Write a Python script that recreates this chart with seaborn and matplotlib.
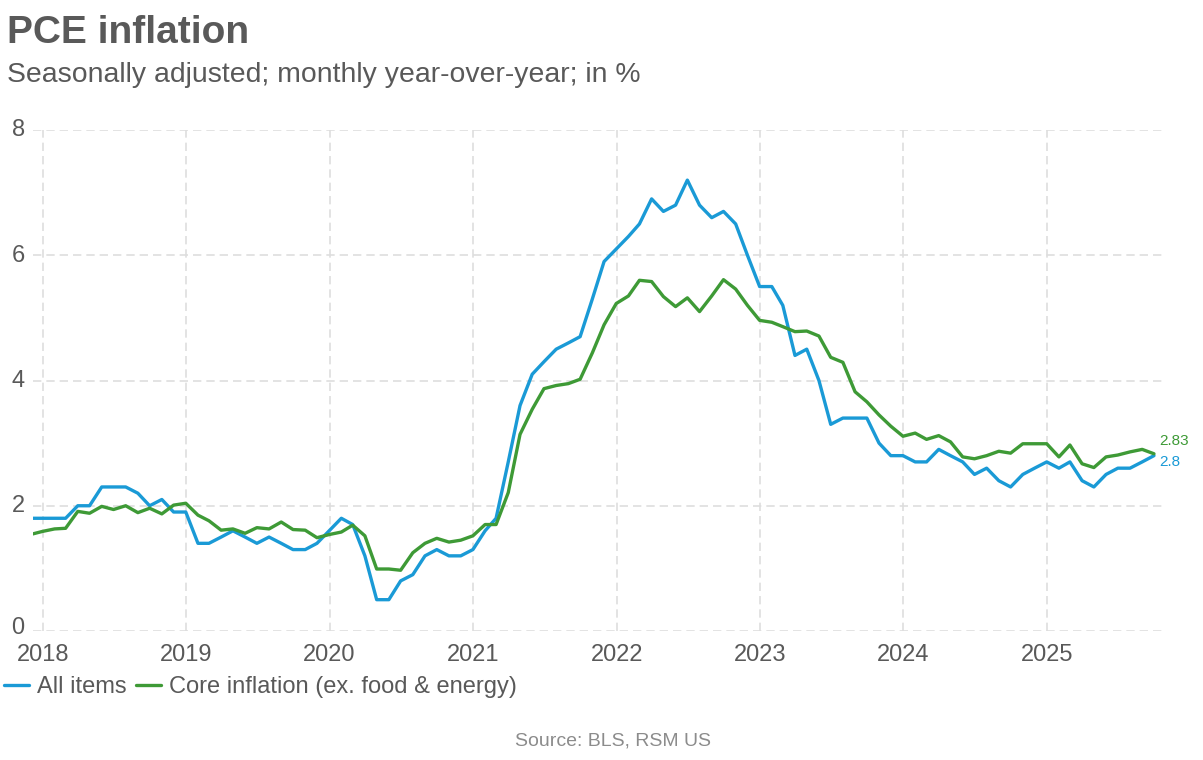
import numpy as np
import pandas as pd
import matplotlib
matplotlib.use("Agg")
import matplotlib.pyplot as plt
import matplotlib.dates as mdates
import matplotlib.transforms as mtransforms
import seaborn as sns

# ---------------- data (month-end observations, Nov 2017 .. Sep 2025) ----------------
start_month = "2017-11-30"
n_months = 95

all_items = [
    1.8, 1.8,
    1.8, 1.8, 2.0, 2.0, 2.3, 2.3, 2.3, 2.2, 2.0, 2.1, 1.9, 1.9,
    1.4, 1.4, 1.5, 1.6, 1.5, 1.4, 1.5, 1.4, 1.3, 1.3, 1.4, 1.6,
    1.8, 1.7, 1.2, 0.5, 0.5, 0.8, 0.9, 1.2, 1.3, 1.2, 1.2, 1.3,
    1.6, 1.8, 2.7, 3.6, 4.1, 4.3, 4.5, 4.6, 4.7, 5.3, 5.9, 6.1,
    6.3, 6.5, 6.9, 6.7, 6.8, 7.2, 6.8, 6.6, 6.7, 6.5, 6.0, 5.5,
    5.5, 5.2, 4.4, 4.5, 4.0, 3.3, 3.4, 3.4, 3.4, 3.0, 2.8, 2.8,
    2.7, 2.7, 2.9, 2.8, 2.7, 2.5, 2.6, 2.4, 2.3, 2.5, 2.6, 2.7,
    2.6, 2.7, 2.4, 2.3, 2.5, 2.6, 2.6, 2.7, 2.8,
]

core = [
    1.54, 1.59,
    1.63, 1.64, 1.91, 1.88, 1.99, 1.94, 2.00, 1.89, 1.96, 1.87, 2.01, 2.04,
    1.85, 1.76, 1.61, 1.63, 1.56, 1.65, 1.63, 1.74, 1.62, 1.61, 1.49, 1.54,
    1.58, 1.69, 1.52, 0.99, 0.99, 0.97, 1.25, 1.40, 1.48, 1.42, 1.45, 1.52,
    1.70, 1.70, 2.21, 3.14, 3.54, 3.87, 3.92, 3.95, 4.02, 4.44, 4.89, 5.23,
    5.35, 5.60, 5.58, 5.34, 5.18, 5.32, 5.10, 5.35, 5.61, 5.46, 5.20, 4.96,
    4.93, 4.86, 4.78, 4.79, 4.71, 4.37, 4.29, 3.82, 3.66, 3.45, 3.27, 3.11,
    3.16, 3.06, 3.12, 3.02, 2.78, 2.75, 2.80, 2.87, 2.84, 2.99, 2.99, 2.99,
    2.78, 2.97, 2.67, 2.61, 2.78, 2.81, 2.86, 2.90, 2.83,
]

series_names = ["All items", "Core inflation (ex. food & energy)"]
end_labels = ["2.8", "2.83"]
y_ticks = [0, 2, 4, 6, 8]
x_tick_years = [2018, 2019, 2020, 2021, 2022, 2023, 2024, 2025]

title = "PCE inflation"
subtitle = "Seasonally adjusted; monthly year-over-year; in %"
source = "Source: BLS, RSM US"

# ---------------- styling ----------------
BLUE = "#1a9ad6"
GREEN = "#3e9a36"
TXT = "#595959"
SRC = "#8c8c8c"
GRID = "#dedede"

sns.set_theme(style="white")
plt.rcParams["font.family"] = ["Liberation Sans", "DejaVu Sans"]

dates = pd.date_range(start_month, periods=n_months, freq="ME")
df = pd.DataFrame({
    "date": np.concatenate([dates, dates]),
    "value": all_items + core,
    "series": [series_names[0]] * n_months + [series_names[1]] * n_months,
})

W, H = 1203, 760
fig = plt.figure(figsize=(W / 100, H / 100), dpi=100)
ax = fig.add_axes([33 / W, (H - 631) / H, (1163 - 33) / W, (631 - 130) / H])

sns.lineplot(data=df, x="date", y="value", hue="series",
             palette={series_names[0]: BLUE, series_names[1]: GREEN},
             linewidth=2.4, ax=ax, legend=True)

handles, labels = ax.get_legend_handles_labels()
ax.get_legend().remove()

ax.set_xlim(pd.Timestamp("2017-12-07"), pd.Timestamp("2025-10-23"))
ax.set_ylim(0, 8)
ax.set_yticks(y_ticks)
ax.set_yticklabels([str(t) for t in y_ticks])
ax.set_xticks([pd.Timestamp(f"{y}-01-01") for y in x_tick_years])
ax.xaxis.set_major_formatter(mdates.DateFormatter("%Y"))
ax.set_xlabel("")
ax.set_ylabel("")

ax.grid(True, which="major", axis="both", color=GRID, linestyle=(0, (5, 3)), linewidth=1.2)
ax.set_axisbelow(True)
for s in ax.spines.values():
    s.set_visible(False)
ax.tick_params(axis="both", length=0, labelsize=17, colors=TXT)
ax.tick_params(axis="x", pad=9.5)
ax.tick_params(axis="y", pad=6)

# y labels sit slightly above their gridlines in the reference ("0" a bit more)
for lbl in ax.get_yticklabels():
    dy_px = 5 if lbl.get_text() == "0" else 2
    lbl.set_transform(lbl.get_transform() +
                      mtransforms.ScaledTranslation(0, dy_px / 100, fig.dpi_scale_trans))

# end labels
last_date = dates[-1]
ax.annotate(end_labels[1], xy=(last_date, core[-1]), xytext=(4, 9),
            textcoords="offset points", color=GREEN, fontsize=11,
            ha="left", va="center", annotation_clip=False)
ax.annotate(end_labels[0], xy=(last_date, all_items[-1]), xytext=(4, -4.5),
            textcoords="offset points", color=BLUE, fontsize=11,
            ha="left", va="center", annotation_clip=False)

# legend
fig.legend(handles, labels, loc="center left", bbox_to_anchor=(4 / W, (H - 687) / H),
           ncol=2, frameon=False, fontsize=17, labelcolor=TXT,
           handlelength=1.05, handletextpad=0.35, columnspacing=0.4,
           borderpad=0, borderaxespad=0)

# titles
fig.text(7 / W, (H - 43) / H, title, fontsize=28, fontweight="bold", color=TXT,
         ha="left", va="baseline")
fig.text(7 / W, (H - 82) / H, subtitle, fontsize=20.4, color=TXT,
         ha="left", va="baseline")
fig.text(613 / W, (H - 745) / H, source, fontsize=14, color=SRC,
         ha="center", va="baseline")

fig.savefig("out.png", dpi=100)
